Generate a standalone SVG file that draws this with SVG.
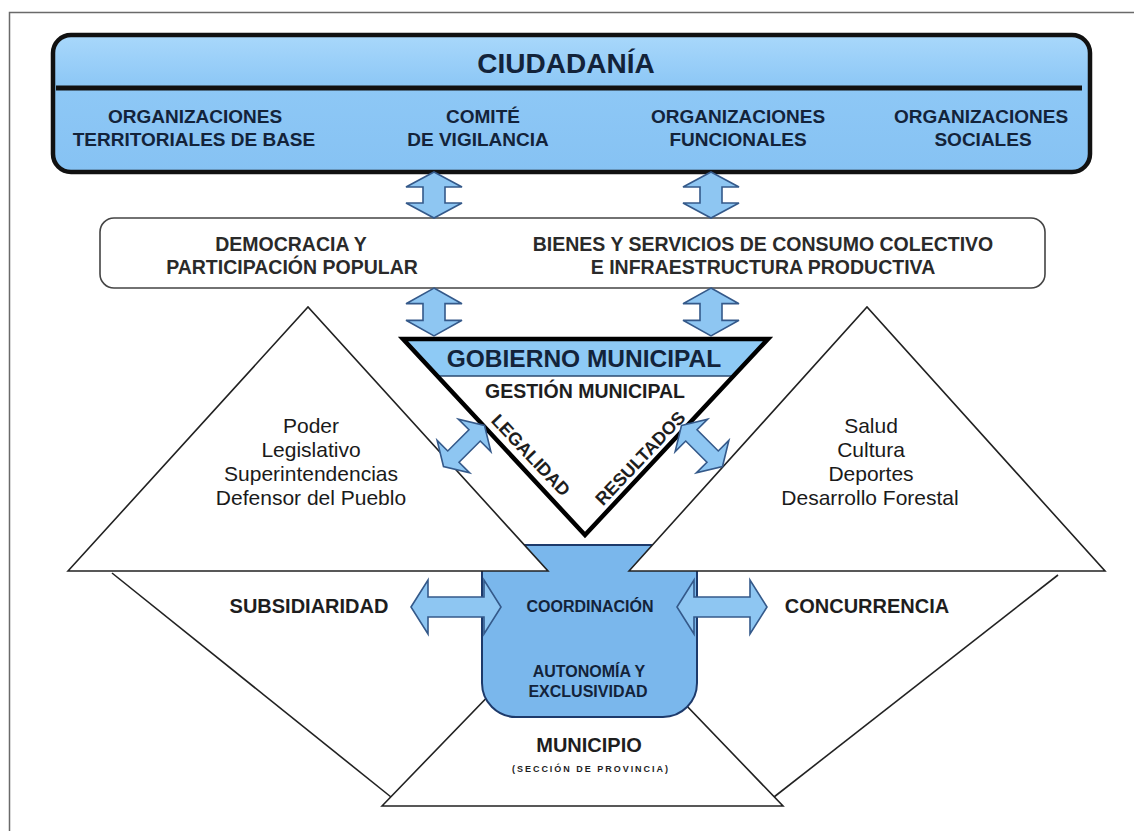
<svg xmlns="http://www.w3.org/2000/svg" width="1134" height="831" viewBox="0 0 1134 831">
<defs>
<linearGradient id="gTop" x1="0" y1="0" x2="0" y2="1">
<stop offset="0" stop-color="#a9d8fb"/>
<stop offset="0.35" stop-color="#8ec8f6"/>
<stop offset="1" stop-color="#86c2f3"/>
</linearGradient>
<path id="vArrow" d="M0,-23 L28,-8 L11,-8 L11,8 L28,8 L0,23 L-28,8 L-11,8 L-11,-8 L-28,-8 Z"/>
<path id="hArrow" d="M-45,0 L-28,-27 L-28,-10 L28,-10 L28,-27 L45,0 L28,27 L28,10 L-28,10 L-28,27 Z"/>
<path id="dArrow" d="M-29,0 L-15,-23 L-15,-8 L15,-8 L15,-23 L29,0 L15,23 L15,8 L-15,8 L-15,23 Z"/>
</defs>
<style>
.frame{fill:none;stroke:#6a6a6a;stroke-width:1.5}
.hdr{font-family:"Liberation Sans",Arial,sans-serif;font-weight:bold;fill:#13233a;text-anchor:middle}
.mid{font-family:"Liberation Sans",Arial,sans-serif;font-weight:bold;fill:#2a2a2a;text-anchor:middle;font-size:19.5px}
.tri{font-family:"Liberation Sans",Arial,sans-serif;fill:#1a1a1a;text-anchor:middle;font-size:21px}
.lbl{font-family:"Liberation Sans",Arial,sans-serif;font-weight:bold;fill:#1e1e1e;text-anchor:middle}
.thin{fill:#fff;stroke:#222;stroke-width:1.6;stroke-linejoin:miter}
.arr{fill:#8ec6f2;stroke:#34598a;stroke-width:1.6;stroke-linejoin:miter}
</style>
<rect class="frame" x="9.5" y="12.5" width="1200" height="900"/>

<g id="ciudadania">
<rect x="53" y="35" width="1037" height="137" rx="18" fill="url(#gTop)" stroke="#111" stroke-width="4.5"/>
<line x1="56" y1="88" x2="1082" y2="88" stroke="#111" stroke-width="5"/>
<text class="hdr" x="566" y="73" font-size="28">CIUDADANÍA</text>
<text class="hdr" font-size="19"><tspan x="195" y="123">ORGANIZACIONES</tspan><tspan x="194" y="146">TERRITORIALES DE BASE</tspan></text>
<text class="hdr" font-size="19"><tspan x="483" y="123">COMITÉ</tspan><tspan x="478" y="146">DE VIGILANCIA</tspan></text>
<text class="hdr" font-size="19"><tspan x="738" y="123">ORGANIZACIONES</tspan><tspan x="738" y="146">FUNCIONALES</tspan></text>
<text class="hdr" font-size="19"><tspan x="981" y="123">ORGANIZACIONES</tspan><tspan x="983" y="146">SOCIALES</tspan></text>
</g>

<g id="medio">
<rect x="100" y="218" width="945" height="70" rx="14" fill="#fff" stroke="#444" stroke-width="1.6"/>
<text class="mid"><tspan x="291" y="251">DEMOCRACIA Y</tspan><tspan x="292" y="274">PARTICIPACIÓN POPULAR</tspan></text>
<text class="mid"><tspan x="763" y="251">BIENES Y SERVICIOS DE CONSUMO COLECTIVO</tspan><tspan x="763" y="274">E INFRAESTRUCTURA PRODUCTIVA</tspan></text>
</g>

<g id="municipio">
<polygon class="thin" points="382,806 583,598 783,806"/>
<text class="lbl" x="589" y="752" font-size="20" fill="#2a2a2a">MUNICIPIO</text>
<text class="lbl" x="590" y="772" font-size="9" textLength="156">(SECCIÓN DE PROVINCIA)</text>
</g>

<g id="subsidiaridad">
<line x1="112" y1="573" x2="391" y2="797" stroke="#222" stroke-width="1.6"/>
<text class="lbl" x="309" y="613" font-size="20">SUBSIDIARIDAD</text>
</g>

<g id="concurrencia">
<line x1="1058" y1="575" x2="774" y2="797" stroke="#222" stroke-width="1.6"/>
<text class="lbl" x="867" y="613" font-size="20">CONCURRENCIA</text>
</g>

<g id="autonomia">
<path d="M482,545 H697 V683 A34,34 0 0 1 663,717 H516 A34,34 0 0 1 482,683 Z" fill="#7ab7ec" stroke="#1d3a6b" stroke-width="2"/>
<text class="hdr" x="590" y="612" font-size="16" fill="#0f1f38">COORDINACIÓN</text>
<text class="hdr" font-size="16" fill="#0f1f38"><tspan x="589" y="677">AUTONOMÍA Y</tspan><tspan x="588" y="697">EXCLUSIVIDAD</tspan></text>
</g>

<g id="nacional">
<polygon class="thin" points="68,571 308,307 548,571"/>
<text class="tri"><tspan x="311" y="433">Poder</tspan><tspan x="311" y="457">Legislativo</tspan><tspan x="311" y="481">Superintendencias</tspan><tspan x="311" y="505">Defensor del Pueblo</tspan></text>
</g>

<g id="departamental">
<polygon class="thin" points="629,571 867,307 1105,571"/>
<text class="tri"><tspan x="871" y="433">Salud</tspan><tspan x="871" y="457">Cultura</tspan><tspan x="871" y="481">Deportes</tspan><tspan x="870" y="505">Desarrollo Forestal</tspan></text>
</g>

<g id="gobierno">
<polygon points="403,339 768,339 585,535" fill="#fff"/>
<polygon points="403,339 768,339 733.6,376 437.4,376" fill="#8ecaf5"/>
<line x1="437" y1="376" x2="734" y2="376" stroke="#2a4a70" stroke-width="1.3"/>
<polygon points="403,339 768,339 585,535" fill="none" stroke="#000" stroke-width="4.5" stroke-linejoin="miter"/>
<text class="hdr" x="584" y="367" font-size="24.5" fill="#0b2038">GOBIERNO MUNICIPAL</text>
<text class="lbl" x="585" y="398" font-size="19.5" fill="#222">GESTIÓN MUNICIPAL</text>
<text class="lbl" font-size="18" fill="#111" transform="translate(531,455) rotate(46.5)" x="0" y="6.5">LEGALIDAD</text>
<text class="lbl" font-size="18" fill="#111" transform="translate(640,458) rotate(-46.5)" x="0" y="6.5">RESULTADOS</text>
</g>

<g id="connectors">
<use href="#vArrow" class="arr" transform="translate(434,195)"/>
<use href="#vArrow" class="arr" transform="translate(711,195)"/>
<use href="#vArrow" class="arr" transform="translate(434,312) scale(1,1.04)"/>
<use href="#vArrow" class="arr" transform="translate(711,312) scale(1,1.04)"/>
<use href="#dArrow" class="arr" transform="translate(464,446) rotate(-45)"/>
<use href="#dArrow" class="arr" transform="translate(702,446) rotate(45)"/>
<use href="#hArrow" class="arr" transform="translate(456,607)"/>
<use href="#hArrow" class="arr" transform="translate(722,607)"/>
</g>
</svg>
